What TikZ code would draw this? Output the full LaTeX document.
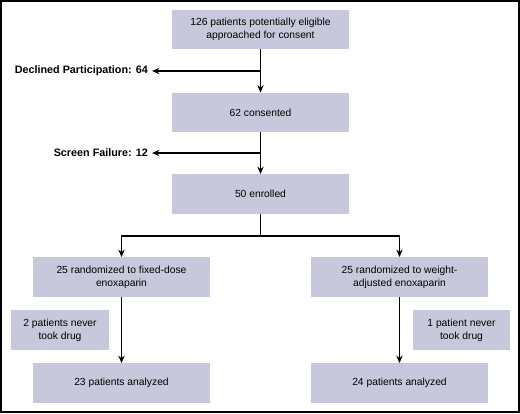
\documentclass[tikz,border=0pt]{standalone}
\usepackage{fontspec}
\setmainfont{Liberation Sans}
\usepackage{xcolor}
\usetikzlibrary{arrows.meta,positioning}
\definecolor{cajagris}{HTML}{C8C8DC}

\begin{document}
\begin{tikzpicture}[x=1pt,y=-1pt,
  caja/.style={fill=cajagris,align=center,inner sep=0pt,
               minimum width=177pt,minimum height=39.5pt,
               font=\fontsize{10.3}{13}\selectfont},
  lado/.style={caja,minimum width=97.5pt},
  rot/.style={font=\bfseries\fontsize{10.8}{12}\selectfont,anchor=east,inner sep=0pt},
  fl/.style={-{Stealth[length=2.6mm,width=2.2mm]},line width=1.2pt},
  ln/.style={line width=1.2pt}]
  \draw[line width=2pt] (1,1) rectangle (519,412);
  \node[caja] (a) at (260.5,29.5) {126 patients potentially eligible\\approached for consent};
  \node[caja] (b) at (260.5,112.5) {62 consented};
  \node[caja] (c) at (260.5,194) {50 enrolled};
  \node[caja] (d) at (121.5,277) {25 randomized to fixed-dose\\enoxaparin};
  \node[caja] (e) at (399.5,277) {25 randomized to weight-\\adjusted enoxaparin};
  \node[caja] (f) at (121.5,383) {23 patients analyzed};
  \node[caja] (g) at (399.5,383) {24 patients analyzed};
  \node[lado] (h) at (60,330) {2 patients never\\took drug};
  \node[lado] (i) at (461.5,330) {1 patient never\\took drug};
  \node[rot] (dec) at (148,71) {Declined Participation: 64};
  \node[rot] (scr) at (148,153) {Screen Failure: 12};
  \coordinate (ab) at (260.5,71);
  \coordinate (bc) at (260.5,153);
  \coordinate (split) at (260.5,236);
  \draw[fl] (a) -- (b); \draw[fl] (b) -- (c);
  \draw[fl] (ab) -- ([xshift=4pt]dec.east);
  \draw[fl] (bc) -- ([xshift=4pt]scr.east);
  \draw[ln] (c) -- (split);
  \draw[fl] (split) -| (d); \draw[fl] (split) -| (e);
  \draw[fl] (d) -- (f); \draw[fl] (e) -- (g);
\end{tikzpicture}
\end{document}
